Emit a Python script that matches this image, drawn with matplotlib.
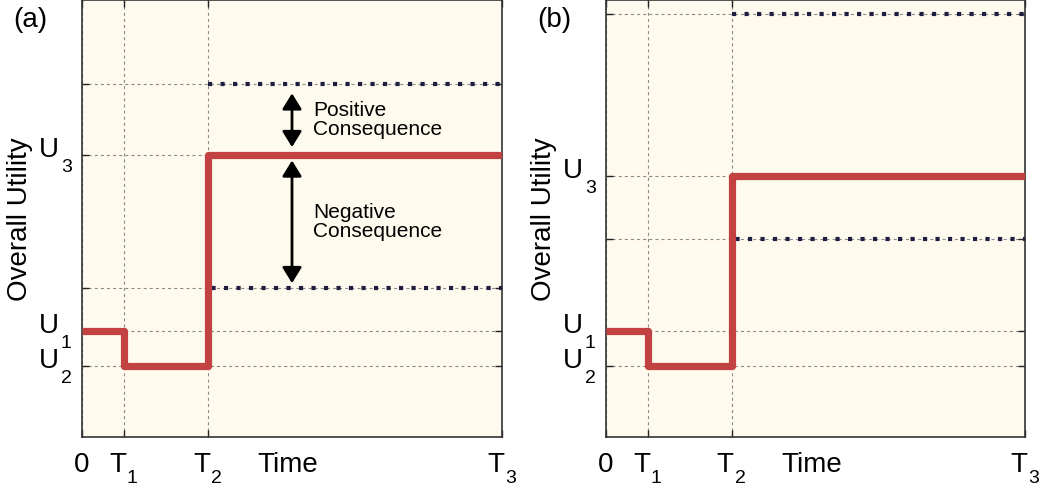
import matplotlib
matplotlib.use("Agg")
import matplotlib.pyplot as plt
from matplotlib.transforms import blended_transform_factory, ScaledTranslation

plt.rcParams['font.family'] = ['Liberation Sans', 'DejaVu Sans']
plt.rcParams['lines.scale_dashes'] = False

# Time ticks
t_ticks = [0, 1, 3, 10]
t_main = ['0', 'T', 'T', 'T']
t_sub = ['', '1', '2', '3']

# Utility path (steps) for each panel
path_t = [0, 1, 3, 10]
path_a = [2.43, 1.62, 6.45, 6.45]
path_b = [2.43, 1.62, 5.97, 5.97]

# Consequence levels (dotted lines from T2 to T3)
cons_a = [8.08, 3.41]
cons_b = [9.68, 4.53]

# Y ticks
yticks_a = [1.62, 2.43, 3.41, 6.45, 8.08]
yticks_b = [1.62, 2.43, 4.53, 5.97, 9.68]
u_main_a = ['U', 'U', '', 'U', '']
u_sub_a = ['2', '1', '', '3', '']
u_main_b = ['U', 'U', '', 'U', '']
u_sub_b = ['2', '1', '', '3', '']

arrow_x = 5
bg = '#FFFAEE'
red = '#C24141'
navy = '#1E1E40'

fig = plt.figure(figsize=(10.44, 4.9), dpi=100)
W, H = 1044, 490
ax_a = fig.add_axes([82 / W, (H - 437) / H, 420 / W, 436.5 / H])
ax_b = fig.add_axes([606 / W, (H - 437) / H, 419 / W, 436.5 / H])


def off(trans, dx, dy):
    return trans + ScaledTranslation(dx / 100, dy / 100, fig.dpi_scale_trans)


def style(ax, yticks, u_main, u_sub, path, cons, tag):
    ax.set_facecolor(bg)
    ax.set_xlim(0, 10)
    ax.set_ylim(0, 10)
    ax.set_xticks(t_ticks)
    ax.set_xticklabels([])
    ax.set_yticks(yticks)
    ax.set_yticklabels([])
    ax.tick_params(direction='in', length=5, width=1, color='#222222',
                   top=True, right=True)
    ax.grid(True, color='#8a8a8a', linestyle=(0, (2.2, 2.2)), linewidth=0.8)
    for sp in ax.spines.values():
        sp.set_color('#333333')
        sp.set_linewidth(1.2)

    # x tick labels (letter + lowered subscript)
    tx = blended_transform_factory(ax.transData, ax.transAxes)
    for t, m, s in zip(t_ticks, t_main, t_sub):
        dx = 0 if not s else -6.5
        ax.text(t, 0, m, transform=off(tx, dx, -15), fontsize=20,
                ha='center', va='top', clip_on=False)
        if s:
            ax.text(t, 0, s, transform=off(tx, 3, -33), fontsize=14,
                    ha='left', va='top', clip_on=False)
    # y tick labels
    ty = blended_transform_factory(ax.transAxes, ax.transData)
    for u, m, s in zip(yticks, u_main, u_sub):
        if m:
            ax.text(0, u, m, transform=off(ty, -23, -2), fontsize=20,
                    ha='right', va='baseline', clip_on=False)
            ax.text(0, u, s, transform=off(ty, -21, -4), fontsize=14,
                    ha='left', va='top', clip_on=False)

    ax.set_ylabel('Overall Utility', fontsize=20)
    ax.yaxis.set_label_coords(-0.117, 0.5)
    ax.set_xlabel('Time', fontsize=20)
    ax.xaxis.set_label_coords(0.49, -0.0344)
    ax.xaxis.label.set_va('top')
    for lev in cons:
        # lines crossing the red step start their first dot just right of it
        dash_off = 6.5 if lev < path[2] else 0
        ax.plot([path_t[2], path_t[3]], [lev, lev], color=navy, lw=3.0,
                linestyle=(dash_off, (3.0, 6.0)), dash_capstyle='butt', zorder=3)
    ax.plot(path_t, path, drawstyle='steps-post', color=red, lw=5.2,
            solid_joinstyle='round', solid_capstyle='butt', zorder=4)
    ax.text(-0.164, 0.984, tag, transform=ax.transAxes, fontsize=20,
            ha='left', va='top')


style(ax_a, yticks_a, u_main_a, u_sub_a, path_a, cons_a, '(a)')
style(ax_b, yticks_b, u_main_b, u_sub_b, path_b, cons_b, '(b)')

# arrows in panel (a)
u3 = path_a[2]
ap1 = dict(arrowstyle='<|-|>,head_length=0.68,head_width=0.42', color='black', lw=2,
           shrinkA=6, shrinkB=6.5, mutation_scale=14)
ap2 = dict(arrowstyle='<|-|>,head_length=0.68,head_width=0.42', color='black', lw=2,
           shrinkA=3.6, shrinkB=3.6, mutation_scale=14)
ax_a.annotate('', xy=(arrow_x, cons_a[0]), xytext=(arrow_x, u3), arrowprops=ap1, zorder=5)
ax_a.annotate('', xy=(arrow_x, u3), xytext=(arrow_x, cons_a[1]), arrowprops=ap2, zorder=5)
ax_a.text(5.5, (cons_a[0] + u3) / 2, 'Positive\nConsequence', fontsize=15,
          ha='left', va='center', linespacing=1.0)
ax_a.text(5.5, (u3 + cons_a[1]) / 2, 'Negative\nConsequence', fontsize=15,
          ha='left', va='center', linespacing=1.0)

fig.savefig('out.png', dpi=100, facecolor='white')
